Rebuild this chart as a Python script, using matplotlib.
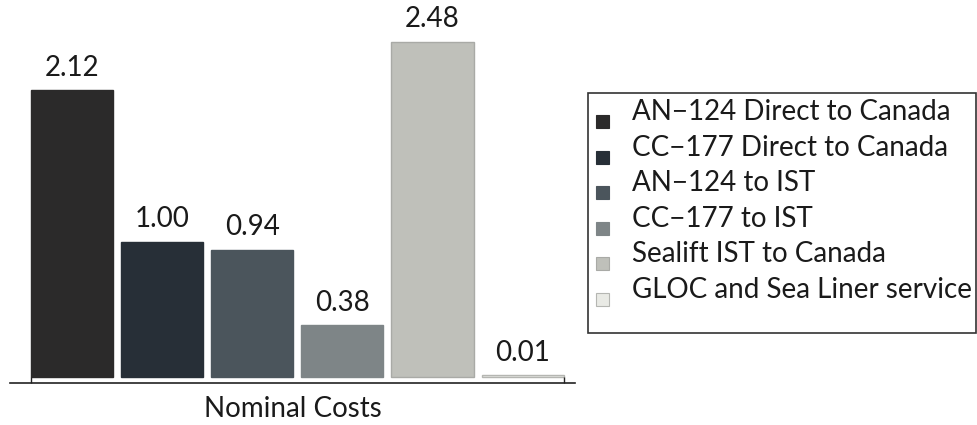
import matplotlib
matplotlib.use("Agg")
import matplotlib.pyplot as plt
from matplotlib.patches import Rectangle

series = ["AN\u2212124 Direct to Canada", "CC\u2212177 Direct to Canada",
          "AN\u2212124 to IST", "CC\u2212177 to IST",
          "Sealift IST to Canada", "GLOC and Sea Liner service"]
values = [2.12, 1.00, 0.94, 0.38, 2.48, 0.01]
colors = ["#2B2A2A", "#272F37", "#4B555C", "#7E8587", "#BFC0BA", "#E9EAE5"]
edges = ["#2B2A2A", "#272F37", "#4B555C", "#7E8587", "#A9AAA6", "#B5B6B2"]
category = "Nominal Costs"

plt.rcParams["font.family"] = ["Lato", "DejaVu Sans"]
FS = 20.0

W, H = 977, 425
fig = plt.figure(figsize=(W / 100, H / 100), dpi=100)

# axes box in pixel terms: x 10..575, spine at y=383, top at y=0
px_per_unit = 135.1
base_y = 376.7
spine_y = 383.0
pitch = 90.2
c0 = 71.7
ax_l, ax_r = 10.0, 575.0
ax = fig.add_axes([ax_l / W, (H - spine_y) / H, (ax_r - ax_l) / W, spine_y / H])
ax.set_xlim((ax_l - c0) / pitch, (ax_r - c0) / pitch)
ymin = -(spine_y - base_y) / px_per_unit
ax.set_ylim(ymin, ymin + spine_y / px_per_unit)

xs = list(range(len(values)))
ax.bar(xs, values, width=0.91, color=colors, edgecolor=edges, linewidth=1.0)
for x, v in zip(xs, values):
    ax.annotate(f"{v:.2f}", (x, v), xytext=(0, 7), textcoords="offset points",
                ha="center", va="bottom", fontsize=FS, color="#1a1a1a")

for s in ["top", "right", "left"]:
    ax.spines[s].set_visible(False)
ax.spines["bottom"].set_color("#222222")
ax.spines["bottom"].set_linewidth(1.2)
ax.set_yticks([])
edge_l = -0.455
edge_r = len(values) - 1 + 0.455
ax.set_xticks([edge_l, edge_r])
ax.set_xticklabels(["", ""])
ax.tick_params(axis="x", direction="in", length=4.5, width=1.0, color="#222222")
fig.text(((ax_l + ax_r) / 2) / W, 1 - 409 / H, category, ha="center", va="center",
         fontsize=FS, color="#1a1a1a")

# legend panel
lx0, ly0, lx1, ly1 = 588, 93, 976, 333
fig.patches.append(Rectangle((lx0 / W, 1 - ly1 / H), (lx1 - lx0) / W, (ly1 - ly0) / H,
                             transform=fig.transFigure, fill=False,
                             edgecolor="#333333", linewidth=1.2))
row0, step = 112.0, 35.6
for i, (name, col, ec) in enumerate(zip(series, colors, edges)):
    yc = row0 + i * step
    fig.patches.append(Rectangle((596 / W, 1 - (yc + 16) / H), 13 / W, 13 / H,
                                 transform=fig.transFigure, facecolor=col,
                                 edgecolor=ec, linewidth=0.8))
    fig.text(632 / W, 1 - yc / H, name, ha="left", va="center",
             fontsize=FS, color="#1a1a1a")

fig.savefig("out.png", dpi=100)
